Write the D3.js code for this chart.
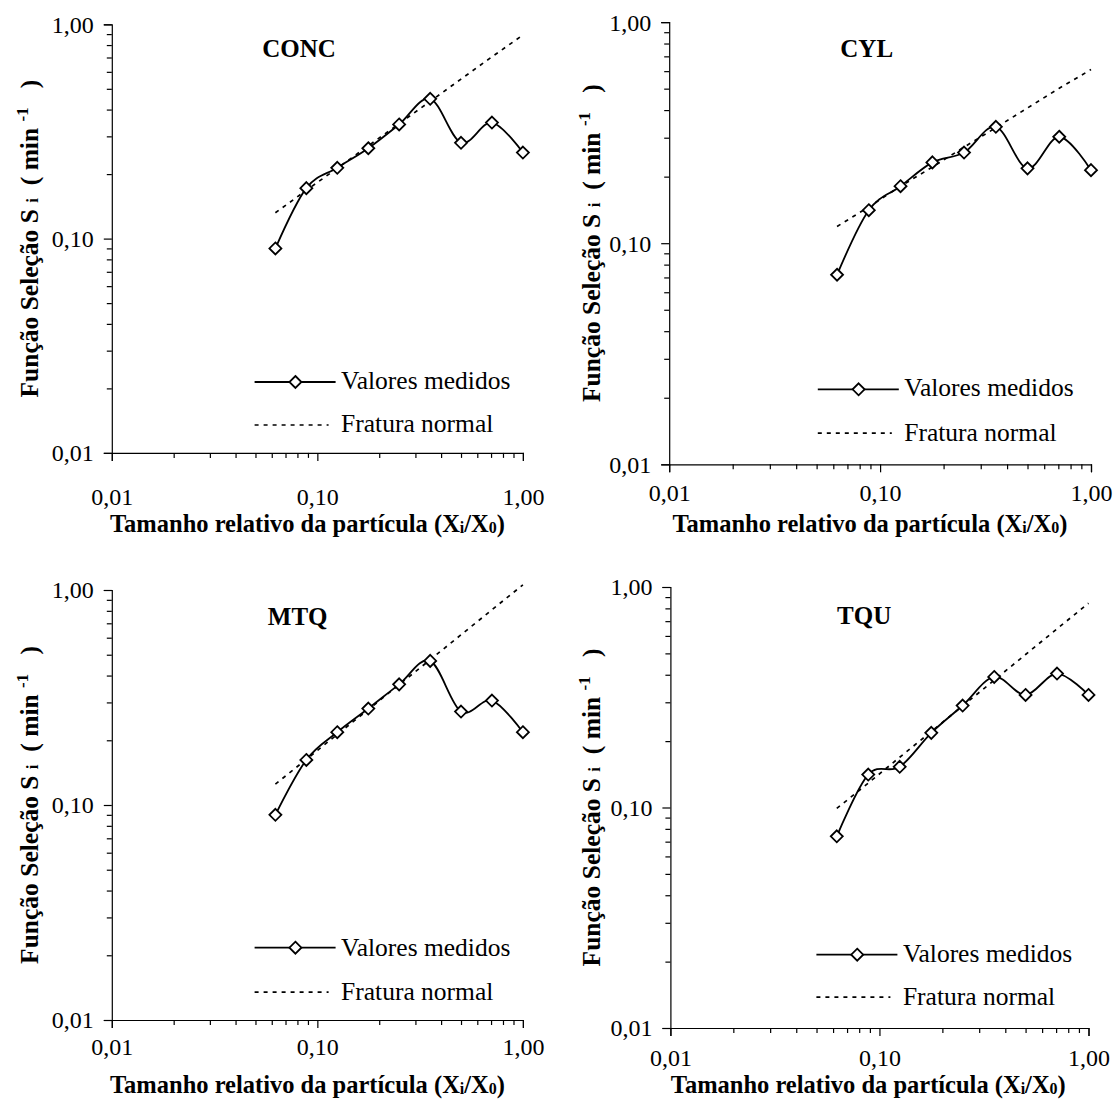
<!DOCTYPE html>
<html>
<head>
<meta charset="utf-8">
<script src="https://cdn.jsdelivr.net/npm/d3@7"></script>
<style>
  html, body { margin: 0; padding: 0; background: #fff; }
  svg text { font-family: "Liberation Serif", "Times New Roman", Times, serif; fill: #000; white-space: pre; }
</style>
</head>
<body>
<script>
// Relative particle size classes (X_i / X_0), a sqrt(2) sieve series
const xRel = [0.0625, 0.0884, 0.125, 0.177, 0.25, 0.354, 0.5, 0.707, 1.0];

const panelNames = ["CONC", "CYL", "MTQ", "TQU"];

// Measured selection function S_i (min^-1)
const medidosCONC = [0.090, 0.172, 0.214, 0.264, 0.341, 0.449, 0.280, 0.348, 0.252];
const medidosCYL  = [0.072, 0.141, 0.181, 0.232, 0.257, 0.336, 0.218, 0.303, 0.214];
const medidosMTQ  = [0.090, 0.162, 0.218, 0.281, 0.364, 0.468, 0.272, 0.306, 0.218];
const medidosTQU  = [0.074, 0.141, 0.153, 0.218, 0.290, 0.391, 0.324, 0.405, 0.324];

// Normal-fracture selection function
const normalCONC = [0.132, 0.168, 0.213, 0.271, 0.344, 0.437, 0.555, 0.705, 0.891];
const normalCYL  = [0.119, 0.146, 0.181, 0.221, 0.272, 0.333, 0.409, 0.502, 0.610];
const normalMTQ  = [0.125, 0.163, 0.213, 0.278, 0.363, 0.474, 0.619, 0.809, 1.057];
const normalTQU  = [0.099, 0.129, 0.169, 0.221, 0.289, 0.378, 0.494, 0.646, 0.844];

// Axis ticks
const majorTicks = [0.01, 0.1, 1];
const majorLabels = ["0,01", "0,10", "1,00"];

const legendLabels = ["Valores medidos", "Fratura normal"];

const series = {
  CONC: { medidos: medidosCONC, normal: normalCONC },
  CYL:  { medidos: medidosCYL,  normal: normalCYL },
  MTQ:  { medidos: medidosMTQ,  normal: normalMTQ },
  TQU:  { medidos: medidosTQU,  normal: normalTQU }
};

const FONT = "'Liberation Serif', 'Times New Roman', Times, serif";

// Placement of each panel on the page
const layout = {
  CONC: { x0: 111.8, x1: 522.9, yTop: 24.3, yBot: 452.9, titleX: 299, titleY: 57,
          xLabOff: 52, xTitleX: 307.5, xTitleY: 532, yTitleX: 38,
          legX: 254.6, legY: 382, legTY: 389.3, leg2Y: 425, leg2TY: 432 },
  CYL:  { x0: 669.2, x1: 1091, yTop: 22.1, yBot: 464.3, titleX: 866.7, titleY: 57,
          xLabOff: 37, xTitleX: 869.9, xTitleY: 532, yTitleX: 600,
          legX: 817.8, legY: 389.3, legTY: 396.4, leg2Y: 433.2, leg2TY: 441 },
  MTQ:  { x0: 111.8, x1: 522.9, yTop: 590, yBot: 1020, titleX: 297.7, titleY: 624.7,
          xLabOff: 35, xTitleX: 307.5, xTitleY: 1093, yTitleX: 38,
          legX: 254.6, legY: 947.7, legTY: 956.4, leg2Y: 992.2, leg2TY: 1000 },
  TQU:  { x0: 670.4, x1: 1088.5, yTop: 587, yBot: 1028, titleX: 864.2, titleY: 624,
          xLabOff: 38, xTitleX: 868.3, xTitleY: 1093, yTitleX: 600,
          legX: 816.4, legY: 954.7, legTY: 962.3, leg2Y: 997.2, leg2TY: 1004.9 }
};

const svg = d3.select("body").append("svg")
  .attr("width", 1113).attr("height", 1104)
  .attr("font-family", FONT);

// Minor ticks 2..9 within each decade
function minorTicks(lo, hi) {
  const out = [];
  for (let e = Math.log10(lo); e < Math.log10(hi) - 1e-9; e++) {
    for (let m = 2; m <= 9; m++) out.push(m * Math.pow(10, e));
  }
  return out;
}

function diamond(sel, cx, cy, r) {
  sel.append("path")
    .attr("d", `M${cx},${cy - r}L${cx + r},${cy}L${cx},${cy + r}L${cx - r},${cy}Z`)
    .attr("fill", "#fff").attr("stroke", "#000").attr("stroke-width", 1.8);
}

panelNames.forEach(name => {
  const L = layout[name];
  const S = series[name];
  const g = svg.append("g").attr("font-family", FONT);

  const x = d3.scaleLog().domain([0.01, 1]).range([L.x0, L.x1]);
  const y = d3.scaleLog().domain([0.01, 1]).range([L.yBot, L.yTop]);

  // Y axis: minor ticks then labelled decades
  g.append("g").attr("transform", `translate(${L.x0},0)`)
    .call(d3.axisLeft(y).tickValues(minorTicks(0.01, 1)).tickSize(5).tickFormat(""))
    .call(a => a.select(".domain").remove());
  const ya = g.append("g").attr("transform", `translate(${L.x0},0)`)
    .call(d3.axisLeft(y).tickValues(majorTicks).tickSize(8).tickPadding(10)
      .tickFormat((d, i) => majorLabels[i]));
  ya.attr("font-family", FONT);
  ya.selectAll("text").attr("font-size", 24).attr("font-family", FONT).attr("dy", "0.33em");

  // X axis
  g.append("g").attr("transform", `translate(0,${L.yBot})`)
    .call(d3.axisBottom(x).tickValues(minorTicks(0.01, 1)).tickSize(5).tickFormat(""))
    .call(a => a.select(".domain").remove());
  const xa = g.append("g").attr("transform", `translate(0,${L.yBot})`)
    .call(d3.axisBottom(x).tickValues(majorTicks).tickSize(8)
      .tickFormat((d, i) => majorLabels[i]));
  xa.attr("font-family", FONT);
  xa.selectAll("text").attr("font-size", 24).attr("font-family", FONT)
    .attr("y", L.xLabOff).attr("dy", 0);

  g.selectAll(".domain, .tick line").attr("stroke", "#000").attr("stroke-width", 1.2);

  // Panel title
  g.append("text").attr("x", L.titleX).attr("y", L.titleY)
    .attr("font-family", FONT)
    .attr("text-anchor", "middle").attr("font-size", 25).attr("font-weight", "bold")
    .text(name);

  // X axis title
  const xt = g.append("text").attr("x", L.xTitleX).attr("y", L.xTitleY)
    .attr("font-family", FONT)
    .attr("text-anchor", "middle").attr("font-size", 24.5).attr("font-weight", "bold");
  xt.append("tspan").text("Tamanho relativo da partícula (X");
  xt.append("tspan").attr("font-size", 16).attr("dy", 1).text("i");
  xt.append("tspan").attr("dy", -1).text("/X");
  xt.append("tspan").attr("font-size", 16).attr("dy", 1).text("0");
  xt.append("tspan").attr("dy", -1).text(")");

  // Y axis title
  const yc = (L.yTop + L.yBot) / 2;
  const yt = g.append("text")
    .attr("font-family", FONT)
    .attr("transform", `translate(${L.yTitleX},${yc}) rotate(-90)`)
    .attr("text-anchor", "middle").attr("font-size", 25.5).attr("font-weight", "bold");
  yt.append("tspan").text("Função Seleção S ");
  yt.append("tspan").attr("font-size", 17).text("i");
  yt.append("tspan").text("  ( min ");
  yt.append("tspan").attr("font-size", 17).attr("dy", -10).text("-1");
  yt.append("tspan").attr("dy", 10).text("   )");

  const pts = xRel.map((v, i) => ({ x: v, m: S.medidos[i], n: S.normal[i] }));

  // Normal fracture line
  g.append("path").datum(pts)
    .attr("d", d3.line().x(d => x(d.x)).y(d => y(d.n)))
    .attr("fill", "none").attr("stroke", "#000").attr("stroke-width", 1.7)
    .attr("stroke-dasharray", "4,5");

  // Measured values, smoothed
  g.append("path").datum(pts)
    .attr("d", d3.line().curve(d3.curveCatmullRom.alpha(0)).x(d => x(d.x)).y(d => y(d.m)))
    .attr("fill", "none").attr("stroke", "#000").attr("stroke-width", 1.8);

  pts.forEach(d => diamond(g, x(d.x), y(d.m), 6));

  // Legend
  g.append("line").attr("x1", L.legX).attr("x2", L.legX + 81)
    .attr("y1", L.legY).attr("y2", L.legY)
    .attr("stroke", "#000").attr("stroke-width", 1.8);
  diamond(g, L.legX + 40.8, L.legY, 6);
  g.append("text").attr("x", L.legX + 86.5).attr("y", L.legTY)
    .attr("font-family", FONT)
    .attr("font-size", 25.5).text(legendLabels[0]);

  g.append("line").attr("x1", L.legX).attr("x2", L.legX + 74)
    .attr("y1", L.leg2Y).attr("y2", L.leg2Y)
    .attr("stroke", "#000").attr("stroke-width", 1.7).attr("stroke-dasharray", "4,5");
  g.append("text").attr("x", L.legX + 86.5).attr("y", L.leg2TY)
    .attr("font-family", FONT)
    .attr("font-size", 25.5).text(legendLabels[1]);
});
</script>
</body>
</html>
